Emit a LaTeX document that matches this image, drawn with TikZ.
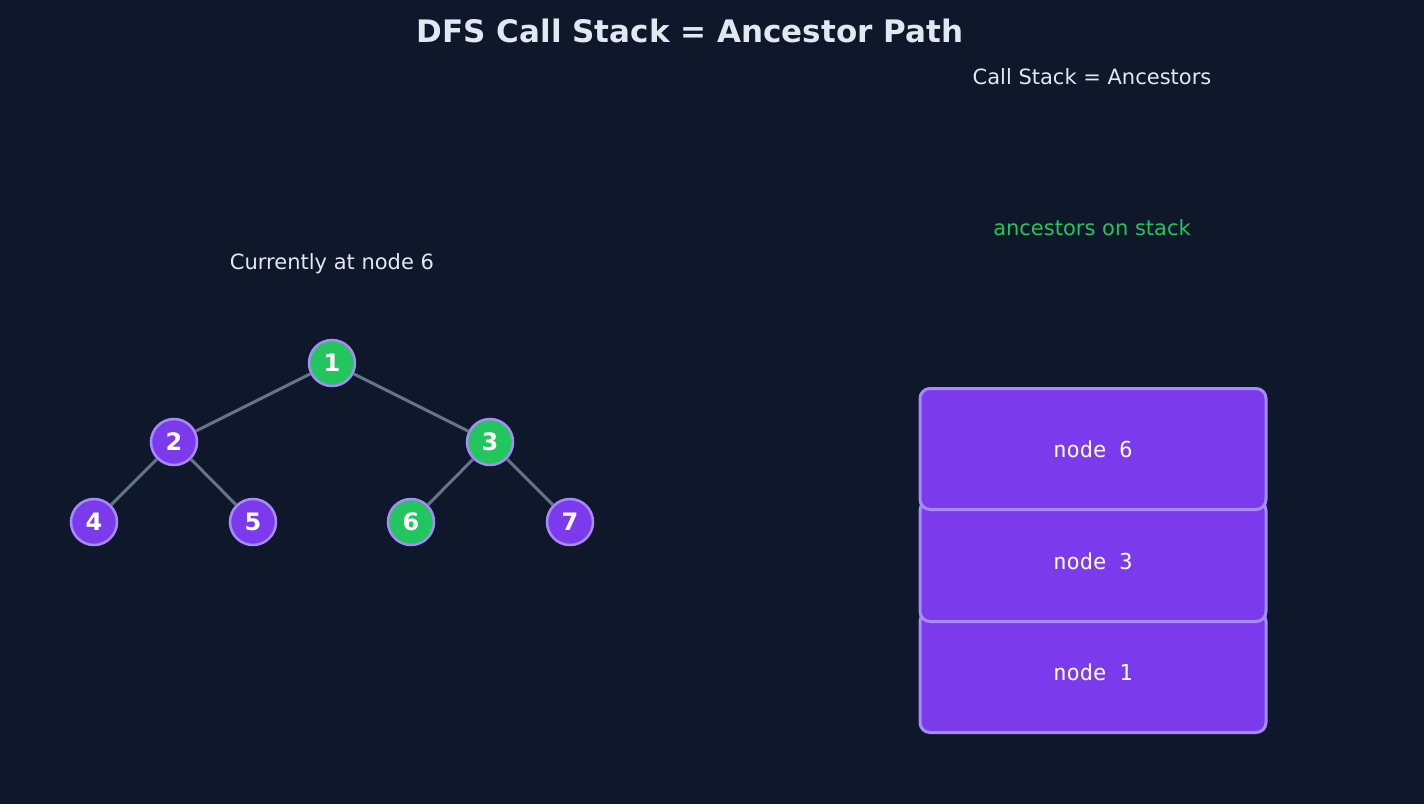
\documentclass[tikz,border=0pt]{standalone}
\usepackage{fontspec}
\setmainfont{DejaVu Sans}
\newfontfamily\monof{DejaVu Sans Mono}
\definecolor{bg}{HTML}{0F172A}
\definecolor{txt}{HTML}{E2E8F0}
\definecolor{grn}{HTML}{22C55E}
\definecolor{pur}{HTML}{7C3AED}
\definecolor{bord}{HTML}{A78BFA}
\definecolor{edg}{HTML}{64748B}
\begin{document}
\begin{tikzpicture}[x=1pt,y=-1pt,
  tn/.style={circle,draw=bord,line width=2.5pt,minimum size=46pt,inner sep=0pt,text=white,font=\fontsize{24}{24}\selectfont\bfseries},
  gn/.style={tn,fill=grn},pn/.style={tn,fill=pur},
  ed/.style={draw=edg,line width=3pt},
  sb/.style={draw=bord,fill=pur,line width=3pt,rounded corners=10pt,minimum width=346pt,minimum height=121pt,text=white,font=\monof\fontsize{22}{22}\selectfont},
  lb/.style={text=txt,font=\fontsize{21}{21}\selectfont}]
\fill[bg] (0,0) rectangle (1424,804);
\node[text=txt,font=\fontsize{31}{31}\selectfont\bfseries] (title) at (690,31) {DFS Call Stack = Ancestor Path};
\node[lb] (cs) at (1092,77) {Call Stack = Ancestors};
\node[text=grn,font=\fontsize{21}{21}\selectfont] (anc) at (1092,228) {ancestors on stack};
\node[lb] (cur) at (332,264) {Currently at node 6};
\node[gn] (n1) at (332,363) {1};
\node[pn] (n2) at (174,442) {2};
\node[gn] (n3) at (490,442) {3};
\node[pn] (n4) at (94,522) {4};
\node[pn] (n5) at (253,522) {5};
\node[gn] (n6) at (411,522) {6};
\node[pn] (n7) at (570,522) {7};
\begin{scope}[on background layer/.try]
\end{scope}
\draw[ed] (n1) -- (n2); \draw[ed] (n1) -- (n3);
\draw[ed] (n2) -- (n4); \draw[ed] (n2) -- (n5);
\draw[ed] (n3) -- (n6); \draw[ed] (n3) -- (n7);
\node[sb] (s1) at (1093,672) {node 1};
\node[sb] (s3) at (1093,561) {node 3};
\node[sb] (s6) at (1093,449) {node 6};
\end{tikzpicture}
\end{document}
